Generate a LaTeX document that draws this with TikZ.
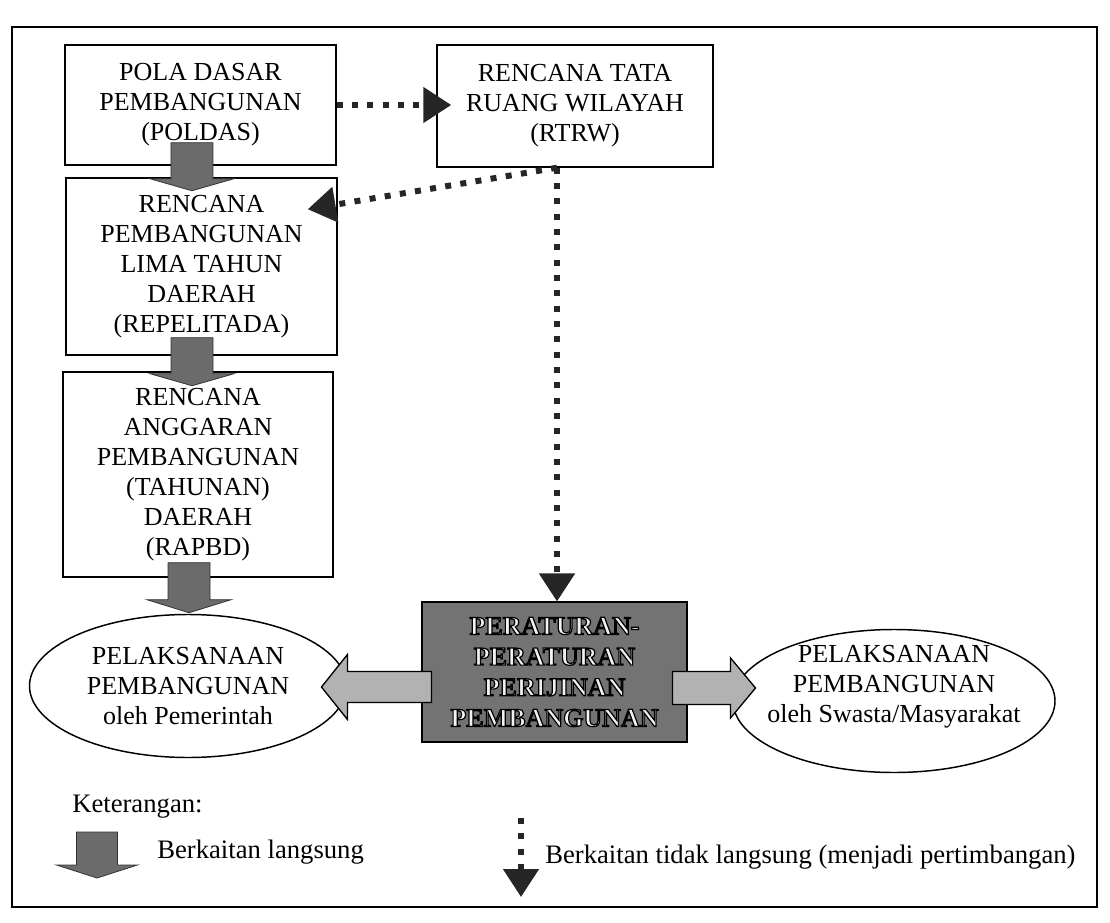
\documentclass[tikz,border=0pt]{standalone}
\usepackage{fontspec}
\setmainfont{Liberation Serif}
\usetikzlibrary{shapes.geometric,arrows.meta}
\newcommand\outon{\special{pdf:literal direct 2 Tr 0.9 w 0 G}}
\newcommand\outoff{\special{pdf:literal direct 0 Tr 0.4 w}}

\begin{document}
\begin{tikzpicture}[x=0.75pt,y=-0.75pt,
  box/.style={draw,line width=1.1pt,rectangle,align=center,inner sep=0pt,
    font=\fontsize{19.5}{22.5}\selectfont},
  oval/.style={draw,line width=1.1pt,ellipse,align=center,inner sep=0pt,
    font=\fontsize{19.5}{22.5}\selectfont},
  rulebox/.style={draw,line width=0.8pt,fill=black!55,text=black!5,align=center,
    inner sep=0pt,font=\bfseries\fontsize{19.5}{23}\selectfont},
  legendtext/.style={anchor=base west,inner sep=0pt,font=\fontsize{20}{24}\selectfont},
  dotarrow/.style={draw=black!85,line width=4.5pt,dash pattern=on 4.5pt off 7pt,
    -{Triangle[length=21pt,width=26pt]}},
  darkfill/.style={fill=black!58,draw=black!80,line width=0.6pt},
  lightfill/.style={fill=black!30,draw=black,line width=1pt},
  pics/fatarrow/.style n args={5}{code={
    \draw[#5] (0,-#3) -- ({#1-#2},-#3) -- ({#1-#2},-#4) -- (#1,0)
      -- ({#1-#2},#4) -- ({#1-#2},#3) -- (0,#3) -- cycle;}}]
  \useasboundingbox (0,0) rectangle (1110,923);
  \draw[line width=1.4pt] (12,27) rectangle (1097,907);

  \node[box,minimum width=203.25pt,minimum height=90pt] (poldas) at (200.5,105)
    {POLA DASAR\\PEMBANGUNAN\\(POLDAS)};
  \node[box,minimum width=207pt,minimum height=91.5pt] (rtrw) at (575,106)
    {RENCANA TATA\\RUANG WILAYAH\\(RTRW)};
  \node[box,minimum width=203.25pt,minimum height=132.75pt] (repelita) at (201.5,266.5)
    {RENCANA\\PEMBANGUNAN\\LIMA TAHUN\\DAERAH\\(REPELITADA)};
  \node[box,minimum width=202.5pt,minimum height=153.75pt] (rapbd) at (198,474.5)
    {RENCANA\\ANGGARAN\\PEMBANGUNAN\\(TAHUNAN)\\DAERAH\\(RAPBD)};

  \coordinate (split) at ([xshift=-13.5pt]rtrw.south);
  \draw[dotarrow] (poldas.east) -- ([xshift=11.25pt]rtrw.west |- poldas.east);
  \draw[dotarrow] (split) -- ([xshift=-22.5pt,yshift=-24pt]repelita.north east);

  \node[oval,minimum width=237.75pt,minimum height=107.25pt] (pemerintah) at (188,686)
    {PELAKSANAAN\\PEMBANGUNAN\\oleh Pemerintah};
  \node[oval,inner xsep=-12pt,inner ysep=-4pt,text depth=25pt,
    minimum width=241.5pt,minimum height=107.25pt] (swasta) at (894,701)
    {PELAKSANAAN\\PEMBANGUNAN\\oleh Swasta/Masyarakat};
  \node[rulebox,minimum width=198.75pt,minimum height=105pt] (perijinan) at (554.5,672)
    {\outon PERATURAN-\\PERATURAN\\PERIJINAN\\PEMBANGUNAN\outoff};

  \draw[dotarrow] (split) -- (split |- perijinan.north);

  \pic[rotate=-90] at ([xshift=-6.4pt,yshift=17.25pt]poldas.south) {fatarrow={48}{12}{21}{42}{darkfill}};
  \pic[rotate=-90] at ([xshift=-7.1pt,yshift=13.5pt]repelita.south) {fatarrow={48}{12}{21}{42}{darkfill}};
  \pic[rotate=-90] at ([xshift=-6.75pt,yshift=11.25pt]rapbd.south) {fatarrow={50}{13}{21}{42}{darkfill}};
  \pic[rotate=180] at ([xshift=7.5pt,yshift=-11.25pt]perijinan.west) {fatarrow={110}{26}{15.5}{32.5}{lightfill}};
  \pic at ([xshift=-11.25pt,yshift=-12pt]perijinan.east) {fatarrow={83}{25}{16.5}{30}{lightfill}};

  \node[legendtext] (keterangan) at (72,812) {Keterangan:};
  \pic[rotate=-90] at (97,832) {fatarrow={46}{13}{20.5}{40.5}{darkfill}};
  \node[legendtext] (langsung) at (157,858) {Berkaitan langsung};
  \coordinate (dottop) at (521,818);
  \coordinate (dotend) at (521,897);
  \draw[dotarrow] (dottop) -- (dotend);
  \node[legendtext] (tidaklangsung) at (545,863) {Berkaitan tidak langsung (menjadi pertimbangan)};
\end{tikzpicture}
\end{document}
